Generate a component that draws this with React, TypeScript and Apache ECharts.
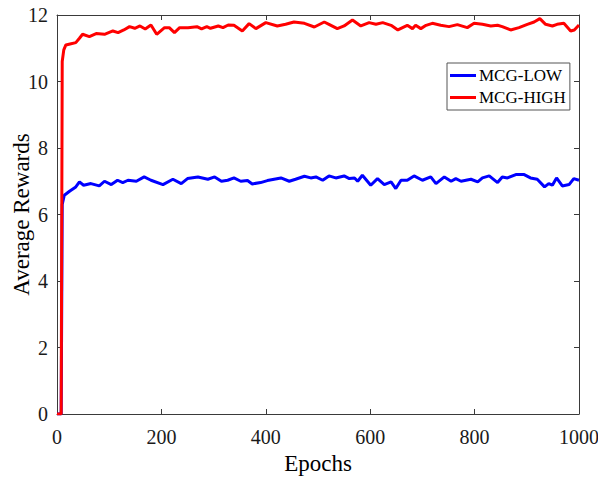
import React, { useEffect, useRef } from "react";
import * as echarts from "echarts";

const seriesNames = ["MCG-LOW", "MCG-HIGH"];
const xTicks = [0, 200, 400, 600, 800, 1000];
const yTicks = [0, 2, 4, 6, 8, 10, 12];

// [epoch, average reward]
const lowPoints: [number, number][] = [
  [0, 0], [8, 0], [10, 6.3], [14, 6.58], [24, 6.7], [36, 6.83], [43, 6.98], [51, 6.88], [65, 6.93],
  [81, 6.86], [91, 7.0], [104, 6.9], [116, 7.03], [126, 6.96], [136, 7.03], [152, 7.0], [167, 7.13],
  [180, 7.03], [203, 6.9], [222, 7.06], [238, 6.93], [250, 7.08], [270, 7.13], [289, 7.06], [302, 7.13],
  [315, 7.0], [327, 7.03], [339, 7.1], [352, 7.0], [365, 7.02], [374, 6.92], [390, 6.96], [403, 7.02],
  [416, 7.06], [429, 7.1], [445, 7.0], [457, 7.06], [474, 7.15], [486, 7.1], [496, 7.13], [509, 7.03],
  [521, 7.16], [534, 7.1], [550, 7.16], [560, 7.08], [570, 7.1], [576, 7.0], [585, 7.18], [601, 6.88],
  [614, 7.08], [627, 6.9], [640, 6.98], [649, 6.78], [659, 7.03], [671, 7.03], [684, 7.16], [700, 7.03],
  [716, 7.13], [726, 6.93], [742, 7.13], [755, 7.0], [764, 7.08], [774, 7.0], [793, 7.06], [806, 6.98],
  [815, 7.1], [828, 7.16], [844, 6.96], [853, 7.13], [863, 7.1], [879, 7.2], [895, 7.2], [907, 7.1],
  [920, 7.06], [934, 6.83], [942, 6.93], [949, 6.88], [957, 7.1], [968, 6.86], [981, 6.9], [990, 7.08],
  [1000, 7.03],
];

const highPoints: [number, number][] = [
  [0, 0], [8, 0], [10, 10.6], [13, 10.95], [17, 11.1], [25, 11.13], [36, 11.17], [43, 11.3], [49, 11.42],
  [62, 11.35], [75, 11.44], [91, 11.42], [107, 11.52], [117, 11.47], [128, 11.55], [139, 11.65],
  [149, 11.6], [159, 11.67], [169, 11.58], [180, 11.7], [191, 11.42], [206, 11.62], [215, 11.62],
  [225, 11.47], [235, 11.62], [251, 11.62], [268, 11.65], [277, 11.58], [287, 11.65], [294, 11.6],
  [309, 11.67], [318, 11.62], [328, 11.7], [339, 11.69], [355, 11.52], [368, 11.74], [381, 11.59],
  [400, 11.77], [422, 11.67], [438, 11.72], [454, 11.79], [474, 11.75], [493, 11.64], [512, 11.79],
  [521, 11.72], [537, 11.59], [550, 11.67], [566, 11.85], [582, 11.67], [598, 11.77], [611, 11.72],
  [624, 11.77], [640, 11.69], [653, 11.55], [671, 11.69], [681, 11.59], [687, 11.69], [697, 11.59],
  [707, 11.69], [719, 11.75], [735, 11.69], [751, 11.65], [767, 11.71], [786, 11.62], [799, 11.75],
  [815, 11.72], [831, 11.67], [844, 11.69], [853, 11.65], [869, 11.55], [885, 11.62], [901, 11.72],
  [914, 11.79], [925, 11.89], [936, 11.72], [949, 11.67], [958, 11.72], [971, 11.75], [984, 11.52],
  [991, 11.55], [1000, 11.7],
];

const FONT = "'Liberation Serif', 'Times New Roman', serif";
const AXIS_COLOR = "#3a3a3a";

export default function App() {
  const ref = useRef<HTMLDivElement>(null);
  useEffect(() => {
    if (!ref.current) return;
    const chart = echarts.init(ref.current, undefined, { renderer: "svg" });
    const xStep = xTicks[1] - xTicks[0];
    const yStep = yTicks[1] - yTicks[0];
    const baseX = {
      type: "value" as const,
      min: xTicks[0],
      max: xTicks[xTicks.length - 1],
      interval: xStep,
      splitLine: { show: false },
      axisLine: { show: true, onZero: false, lineStyle: { color: AXIS_COLOR, width: 1 } },
      axisTick: { show: true, inside: true, length: 5, lineStyle: { color: AXIS_COLOR } },
    };
    const baseY = {
      type: "value" as const,
      min: yTicks[0],
      max: yTicks[yTicks.length - 1],
      interval: yStep,
      splitLine: { show: false },
      axisLine: { show: true, onZero: false, lineStyle: { color: AXIS_COLOR, width: 1 } },
      axisTick: { show: true, inside: true, length: 5, lineStyle: { color: AXIS_COLOR } },
    };
    chart.setOption({
      animation: false,
      backgroundColor: "#ffffff",
      grid: {
        left: 57,
        top: 15,
        right: 19,
        bottom: 64,
        containLabel: false,
        outerBoundsMode: "none",
      },
      legend: {
        data: seriesNames,
        orient: "vertical",
        left: 447,
        top: 63,
        padding: [4, 4, 4, 3],
        itemGap: 5,
        itemWidth: 26,
        itemHeight: 3,
        icon: "rect",
        backgroundColor: "#ffffff",
        borderColor: "#555555",
        borderWidth: 1,
        borderRadius: 0,
        textStyle: { fontFamily: FONT, fontSize: 17, color: "#000000", padding: [0, 0, 0, -2] },
      },
      xAxis: [
        {
          ...baseX,
          position: "bottom",
          name: "Epochs",
          nameLocation: "middle",
          nameGap: 38,
          nameMoveOverlap: false,
          nameTextStyle: { fontFamily: FONT, fontSize: 23, color: "#000" },
          axisLabel: {
            fontFamily: FONT,
            fontSize: 20,
            color: "#1a1a1a",
            margin: 13,
            formatter: (v: number) => String(v),
          },
        },
        { ...baseX, position: "top", axisLabel: { show: false } },
      ],
      yAxis: [
        {
          ...baseY,
          position: "left",
          name: "Average Rewards",
          nameLocation: "middle",
          nameGap: 24,
          nameMoveOverlap: false,
          nameTextStyle: { fontFamily: FONT, fontSize: 23, color: "#000" },
          axisLabel: { fontFamily: FONT, fontSize: 20, color: "#1a1a1a", margin: 9 },
        },
        { ...baseY, position: "right", axisLabel: { show: false } },
      ],
      series: [
        {
          name: seriesNames[0],
          type: "line",
          data: lowPoints,
          showSymbol: false,
          symbol: "none",
          lineStyle: { color: "#0000ff", width: 3 },
          itemStyle: { color: "#0000ff" },
          xAxisIndex: 0,
          yAxisIndex: 0,
        },
        {
          name: seriesNames[1],
          type: "line",
          data: highPoints,
          showSymbol: false,
          symbol: "none",
          lineStyle: { color: "#ff0000", width: 3 },
          itemStyle: { color: "#ff0000" },
          xAxisIndex: 0,
          yAxisIndex: 0,
        },
      ],
    });
    return () => chart.dispose();
  }, []);
  return <div ref={ref} style={{ width: 598, height: 478, position: "absolute", left: 0, top: 0 }} />;
}
